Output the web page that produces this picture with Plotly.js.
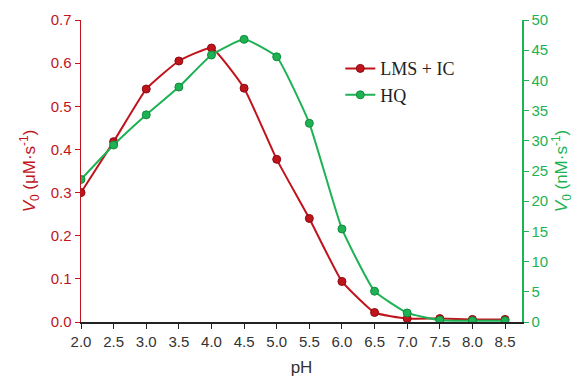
<!DOCTYPE html>
<html>
<head>
<meta charset="utf-8">
<script src="https://cdn.plot.ly/plotly-3.0.1.min.js"></script>
<style>html,body{margin:0;padding:0;background:#fff;}#chart{width:588px;height:382px;}</style>
</head>
<body>
<div id="chart"></div>
<script>
var pH = [2.0, 2.5, 3.0, 3.5, 4.0, 4.5, 5.0, 5.5, 6.0, 6.5, 7.0, 7.5, 8.0, 8.5];
var lmsIC = [0.300, 0.418, 0.540, 0.605, 0.635, 0.542, 0.377, 0.240, 0.094, 0.022, 0.008, 0.008, 0.006, 0.006];
var hq = [23.6, 29.3, 34.3, 38.9, 44.2, 46.8, 43.9, 32.9, 15.4, 5.1, 1.5, 0.3, 0.2, 0.2];
var xTicks = ['2.0','2.5','3.0','3.5','4.0','4.5','5.0','5.5','6.0','6.5','7.0','7.5','8.0','8.5'];

var red = '#C0141C', green = '#1DB254';
var sans = 'Liberation Sans, Arial, sans-serif';

var traces = [
  {x: pH, y: lmsIC, name: 'LMS + IC', type: 'scatter', mode: 'lines+markers', yaxis: 'y',
   line: {color: red, width: 2, shape: 'spline', smoothing: 0.4},
   marker: {symbol: 'circle', size: 8, color: red, line: {color: '#8a0a10', width: 1}}},
  {x: pH, y: hq, name: 'HQ', type: 'scatter', mode: 'lines+markers', yaxis: 'y2',
   line: {color: green, width: 2, shape: 'spline', smoothing: 0.4},
   marker: {symbol: 'circle', size: 8, color: green, line: {color: '#128a3c', width: 1}}}
];

var layout = {
  width: 588, height: 382,
  margin: {l: 81, r: 66, t: 20, b: 60},
  paper_bgcolor: '#fff', plot_bgcolor: '#fff',
  showlegend: true,
  legend: {x: 0.588, y: 0.9, xanchor: 'left', yanchor: 'top', bgcolor: 'rgba(0,0,0,0)',
           font: {family: 'Liberation Serif, Times New Roman, serif', size: 18, color: '#222'},
           tracegroupgap: 0, itemwidth: 30},
  xaxis: {range: [2.0, 8.76], tickmode: 'array', tickvals: pH, ticktext: xTicks,
          showline: true, linecolor: '#222', linewidth: 1.5, ticks: 'outside', ticklen: 5,
          tickcolor: '#222', showgrid: false, zeroline: false,
          tickfont: {family: sans, size: 15, color: '#333'},
          title: {text: 'pH', standoff: 12, font: {family: sans, size: 17, color: '#333'}}},
  yaxis: {range: [0, 0.7], dtick: 0.1, tickformat: '.1f', showline: true, linecolor: red, linewidth: 1.5,
          ticks: 'outside', ticklen: 5, tickcolor: red, showgrid: false, zeroline: false,
          tickfont: {family: sans, size: 15, color: red},
          title: {text: '<i>V</i><sub>0</sub> (μM·s<sup>-1</sup>)', standoff: 10,
                  font: {family: sans, size: 17, color: red}}},
  yaxis2: {range: [0, 50], dtick: 5, overlaying: 'y', side: 'right', showline: true, linecolor: green, linewidth: 1.5,
           ticks: 'outside', ticklen: 5, tickcolor: green, showgrid: false, zeroline: false,
           tickfont: {family: sans, size: 15, color: green},
           title: {text: '<i>V</i><sub>0</sub> (nM·s<sup>-1</sup>)', standoff: 8,
                   font: {family: sans, size: 17, color: green}}}
};

Plotly.newPlot('chart', traces, layout, {displayModeBar: false, staticPlot: true});
</script>
</body>
</html>
